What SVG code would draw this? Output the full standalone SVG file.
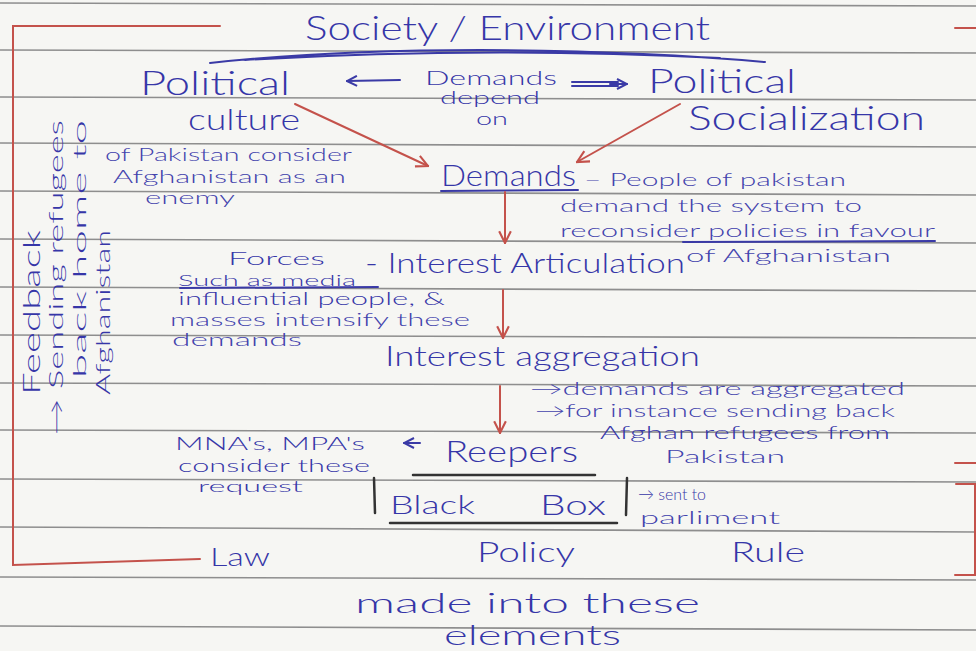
<svg xmlns="http://www.w3.org/2000/svg" width="976" height="651" viewBox="0 0 976 651">
<defs>
<style>
.ink{font-family:"Lato","Open Sans","Liberation Sans",sans-serif;font-weight:300;fill:#3636a8;}
.sm{font-size:18px;fill:#4343ad;}
.md{font-size:28px;}
.lg{font-size:34px;}
.rule{stroke:#8e8e8e;stroke-width:1.6;fill:none;}
.red{stroke:#c4524b;stroke-width:2;fill:none;stroke-linecap:round;}
.blue{stroke:#3a3aa6;stroke-width:2;fill:none;stroke-linecap:round;}
.pen{stroke:#333;stroke-width:2.5;fill:none;stroke-linecap:round;}
</style>
<marker id="ra" viewBox="0 0 12 12" refX="11" refY="6" markerWidth="14" markerHeight="14" markerUnits="userSpaceOnUse" orient="auto">
<path d="M1,1 L11,6 L1,11" fill="none" stroke="#c4524b" stroke-width="1.8"/>
</marker>
<marker id="ba" viewBox="0 0 12 12" refX="11" refY="6" markerWidth="12" markerHeight="12" markerUnits="userSpaceOnUse" orient="auto">
<path d="M1,1 L11,6 L1,11" fill="none" stroke="#3a3aa6" stroke-width="2"/>
</marker>
</defs>
<rect width="976" height="651" fill="#f6f6f3"/>
<g id="paper-rules">
<path class="rule" d="M0 3 L976 6 M0 50 L976 53 M0 97 L976 100 M0 143 L976 147 M0 191 L976 195 M0 239 L976 243 M0 287 L976 291 M0 335 L976 338 M0 383 L976 386 M0 430 L976 433 M0 479 L976 482 M0 527 L976 532 M0 577 L976 580 M0 626 L976 630"/>
</g>
<g id="margin-frame">
<path class="red" d="M220 26 L13 26 L13 565 L200 559"/>
<path class="red" d="M955 28 L976 28 M955 463 L976 463 M956 484 L975 484 L975 575 L955 575"/>
</g>
<g id="society">
<text class="ink lg" x="305" y="40" textLength="405" lengthAdjust="spacingAndGlyphs">Society / Environment</text>
<path class="blue" d="M210 63 Q330 50 480 50 Q640 51 765 62 M245 60 Q480 46 720 58"/>
</g>
<g id="political-culture">
<text class="ink lg" x="140" y="95" textLength="150" lengthAdjust="spacingAndGlyphs">Political</text>
<text class="ink" x="188" y="130" font-size="30" textLength="112" lengthAdjust="spacingAndGlyphs">culture</text>
<text class="ink sm" x="105" y="161" textLength="247" lengthAdjust="spacingAndGlyphs">of Pakistan consider</text>
<text class="ink sm" x="113" y="183" textLength="233" lengthAdjust="spacingAndGlyphs">Afghanistan as an</text>
<text class="ink sm" x="145" y="204" textLength="90" lengthAdjust="spacingAndGlyphs">enemy</text>
</g>
<g id="political-socialization">
<text class="ink lg" x="648" y="93" textLength="148" lengthAdjust="spacingAndGlyphs">Political</text>
<text class="ink lg" x="688" y="130" textLength="237" lengthAdjust="spacingAndGlyphs">Socialization</text>
</g>
<g id="demands-depend">
<text class="ink" x="425" y="85" font-size="20" textLength="132" lengthAdjust="spacingAndGlyphs">Demands</text>
<text class="ink" x="440" y="104" font-size="17" textLength="100" lengthAdjust="spacingAndGlyphs">depend</text>
<text class="ink" x="476" y="125" font-size="17" textLength="32" lengthAdjust="spacingAndGlyphs">on</text>
</g>
<g id="demands">
<text class="ink" x="441" y="186" font-size="30" textLength="135" lengthAdjust="spacingAndGlyphs">Demands</text>
<path class="blue" d="M441 191 L578 190" stroke-width="1.6"/>
<text class="ink sm" x="584" y="186" textLength="262" lengthAdjust="spacingAndGlyphs">– People of pakistan</text>
<text class="ink sm" x="560" y="212" textLength="302" lengthAdjust="spacingAndGlyphs">demand the system to</text>
<text class="ink sm" x="560" y="237" textLength="375" lengthAdjust="spacingAndGlyphs">reconsider policies in favour</text>
<path class="blue" d="M683 242 L935 241" stroke-width="1.4"/>
<text class="ink sm" x="686" y="262" textLength="205" lengthAdjust="spacingAndGlyphs">of Afghanistan</text>
</g>
<g id="interest-articulation">
<text class="ink md" x="365" y="273" textLength="320" lengthAdjust="spacingAndGlyphs">- Interest Articulation</text>
<text class="ink" x="228" y="265" font-size="17" fill="#4343ad" textLength="97" lengthAdjust="spacingAndGlyphs">Forces</text>
<text class="ink" x="178" y="286" font-size="16" fill="#4343ad" textLength="178" lengthAdjust="spacingAndGlyphs">Such as media</text>
<path class="blue" d="M180 288 L378 287" stroke-width="1.4"/>
<text class="ink" x="178" y="305" font-size="17" fill="#4343ad" textLength="267" lengthAdjust="spacingAndGlyphs">influential people, &amp;</text>
<text class="ink sm" x="170" y="326" textLength="300" lengthAdjust="spacingAndGlyphs">masses intensify these</text>
<text class="ink sm" x="172" y="346" textLength="130" lengthAdjust="spacingAndGlyphs">demands</text>
</g>
<g id="interest-aggregation">
<text class="ink md" x="385" y="366" textLength="315" lengthAdjust="spacingAndGlyphs">Interest aggregation</text>
<text class="ink sm" x="530" y="395" textLength="375" lengthAdjust="spacingAndGlyphs">→demands are aggregated</text>
<text class="ink sm" x="535" y="417" textLength="360" lengthAdjust="spacingAndGlyphs">→for instance sending back</text>
<text class="ink" x="600" y="439" font-size="17" fill="#4343ad" textLength="290" lengthAdjust="spacingAndGlyphs">Afghan refugees from</text>
<text class="ink sm" x="665" y="463" textLength="120" lengthAdjust="spacingAndGlyphs">Pakistan</text>
</g>
<g id="keepers">
<text class="ink" x="445" y="462" font-size="30" textLength="133" lengthAdjust="spacingAndGlyphs">Reepers</text>
<text class="ink" x="175" y="450" font-size="17" fill="#4343ad" textLength="190" lengthAdjust="spacingAndGlyphs">MNA's, MPA's</text>
<text class="ink" x="178" y="472" font-size="18" fill="#4343ad" textLength="192" lengthAdjust="spacingAndGlyphs">consider these</text>
<text class="ink" x="198" y="492" font-size="15" fill="#4343ad" textLength="105" lengthAdjust="spacingAndGlyphs">request</text>
</g>
<g id="black-box">
<path class="pen" d="M413 475 L595 475 M374 478 L375 513 M627 478 L626 515 M390 523 L617 523"/>
<text class="ink" x="390" y="514" font-size="26" textLength="85" lengthAdjust="spacingAndGlyphs">Black</text>
<text class="ink" x="540" y="515" font-size="28" textLength="66" lengthAdjust="spacingAndGlyphs">Box</text>
<text class="ink" x="638" y="500" font-size="16" fill="#4343ad" textLength="68" lengthAdjust="spacingAndGlyphs">→ sent to</text>
<text class="ink sm" x="640" y="524" textLength="140" lengthAdjust="spacingAndGlyphs">parliment</text>
</g>
<g id="outputs">
<text class="ink" x="210" y="566" font-size="26" textLength="60" lengthAdjust="spacingAndGlyphs">Law</text>
<text class="ink md" x="477" y="562" textLength="98" lengthAdjust="spacingAndGlyphs">Policy</text>
<text class="ink md" x="731" y="562" textLength="74" lengthAdjust="spacingAndGlyphs">Rule</text>
<text class="ink md" x="355" y="613" textLength="345" lengthAdjust="spacingAndGlyphs">made into these</text>
<text class="ink md" x="444" y="645" textLength="177" lengthAdjust="spacingAndGlyphs">elements</text>
</g>
<g id="feedback">
<text class="ink" font-size="24" transform="translate(40,395) rotate(-90)" textLength="165" lengthAdjust="spacingAndGlyphs">Feedback</text>
<text class="ink" font-size="19" fill="#4343ad" transform="translate(63,435) rotate(-90)" textLength="315" lengthAdjust="spacingAndGlyphs">→ Sending refugees</text>
<text class="ink" font-size="18" fill="#4343ad" transform="translate(86,378) rotate(-90)" textLength="258" lengthAdjust="spacingAndGlyphs">back home to</text>
<text class="ink" font-size="19" fill="#4343ad" transform="translate(110,395) rotate(-90)" textLength="165" lengthAdjust="spacingAndGlyphs">Afghanistan</text>
</g>
<g id="connectors">
<path class="blue" d="M400 80 L347 81" marker-end="url(#ba)"/>
<path class="blue" d="M572 82 L618 82 M572 86 L618 86" stroke-width="1.6"/>
<path class="blue" d="M610 84 L627 84" marker-end="url(#ba)" stroke-width="1.6"/>
<path class="red" d="M295 104 L428 166" marker-end="url(#ra)"/>
<path class="red" d="M680 104 L577 162" marker-end="url(#ra)"/>
<path class="red" d="M505 192 L505 243" marker-end="url(#ra)"/>
<path class="red" d="M503 290 L503 338" marker-end="url(#ra)"/>
<path class="red" d="M500 386 L500 433" marker-end="url(#ra)"/>
<path class="blue" d="M420 443 L404 443" marker-end="url(#ba)" stroke-width="1.6"/>
</g>
</svg>
